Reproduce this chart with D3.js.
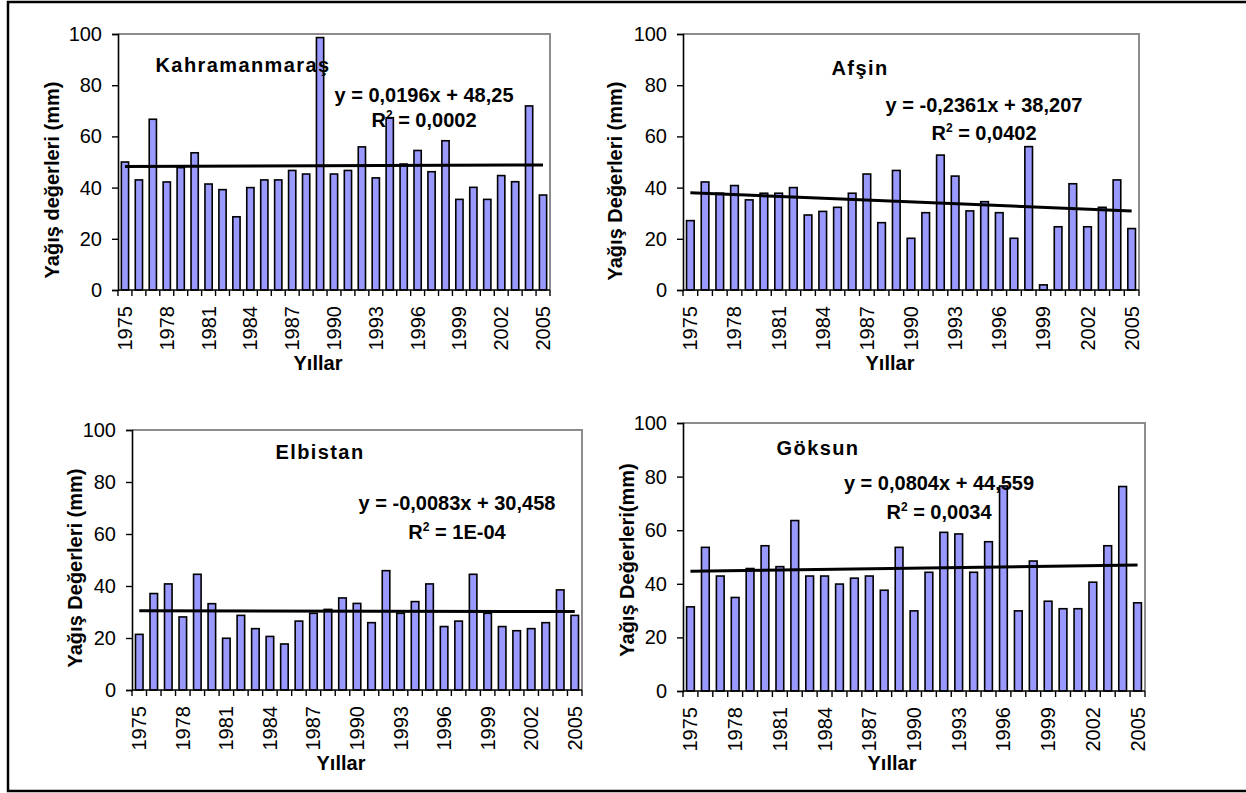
<!DOCTYPE html>
<html>
<head>
<meta charset="utf-8">
<script src="https://cdn.jsdelivr.net/npm/d3@7"></script>
<style>
  html, body { margin: 0; padding: 0; background: #fff; }
  svg { display: block; }
  text { font-family: "Liberation Sans", Arial, sans-serif; fill: #000; }
</style>
</head>
<body>
<svg id="chart" width="1246" height="793"></svg>
<script>
// ---------------- DATA ----------------
const years = [1975,1976,1977,1978,1979,1980,1981,1982,1983,1984,1985,1986,1987,1988,1989,1990,
               1991,1992,1993,1994,1995,1996,1997,1998,1999,2000,2001,2002,2003,2004,2005];
const tickLabelYears = [1975,1978,1981,1984,1987,1990,1993,1996,1999,2002,2005];
const yTickValues = [0,20,40,60,80,100];

const kahramanmaras = [50,43,66.7,42.2,47.8,53.6,41.4,39.2,28.6,40,43,43,46.7,45.3,98.6,45.3,
                       46.7,55.9,43.8,67.3,49.2,54.5,46.2,58.3,35.4,40.1,35.4,44.7,42.3,71.9,37.1];
const afsin = [27.1,42.2,37.8,40.8,35.2,37.8,37.8,40,29.3,30.7,32.3,37.8,45.3,26.3,46.7,20.2,
               30.2,52.7,44.5,30.9,34.5,30.2,20.2,56,2,24.7,41.5,24.7,32.3,43,24];
const elbistan = [21.4,37.1,40.8,28.1,44.5,33.2,19.9,28.7,23.6,20.6,17.7,26.5,29.5,31,35.4,33.3,
                  25.9,45.9,29.5,34,40.8,24.4,26.5,44.5,29.5,24.4,22.8,23.6,25.9,38.5,28.7];
const goksun = [31.4,53.6,42.9,34.9,45.7,54.2,46.4,63.6,42.9,42.9,39.9,42.1,42.9,37.6,53.6,29.9,
                44.3,59.2,58.6,44.3,55.7,76.5,29.9,48.5,33.5,30.7,30.7,40.6,54.2,76.3,32.9];

const stationNames = ["Kahramanmaraş","Afşin","Elbistan","Göksun"];
const trendSlopes = [0.0196,-0.2361,-0.0083,0.0804];
const trendIntercepts = [48.25,38.207,30.458,44.559];
const equationLabels = ["y = 0,0196x + 48,25","y = -0,2361x + 38,207","y = -0,0083x + 30,458","y = 0,0804x + 44,559"];
const r2Labels = ["0,0002","0,0402","1E-04","0,0034"];
const yTitles = ["Yağış değerleri (mm)","Yağış Değerleri (mm)","Yağış Değerleri (mm)","Yağış Değerleri(mm)"];
const xTitle = "Yıllar";
const seriesList = [kahramanmaras, afsin, elbistan, goksun];

// ---------------- LAYOUT ----------------
const layouts = [
  {left:118, right:550, top:34, bottom:290, titleX:243, titleY:65, eqX:424, eqY:95, r2Y:120, yTitleX:52, yTitleY:180, xTitleX:318, xTitleY:363},
  {left:683, right:1139, top:34, bottom:290, titleX:860, titleY:68, eqX:984, eqY:105, r2Y:133, yTitleX:615, yTitleY:181, xTitleX:890, xTitleY:363},
  {left:132, right:582, top:430, bottom:690, titleX:320, titleY:452, eqX:457, eqY:503, r2Y:532, yTitleX:75, yTitleY:568, xTitleX:341, xTitleY:763},
  {left:683, right:1145, top:423, bottom:691, titleX:818, titleY:448, eqX:939, eqY:483, r2Y:512, yTitleX:627, yTitleY:560, xTitleX:892, xTitleY:763}
];

const svg = d3.select("#chart");

// outer frame
svg.append("rect")
  .attr("x", 8).attr("y", 2).attr("width", 1260).attr("height", 789)
  .attr("fill", "none").attr("stroke", "#000").attr("stroke-width", 2.5);

seriesList.forEach((data, k) => {
  const L = layouts[k];
  const g = svg.append("g");
  const x = d3.scaleBand().domain(years).range([L.left, L.right]).paddingInner(0).paddingOuter(0);
  const y = d3.scaleLinear().domain([0, 100]).range([L.bottom, L.top]);
  const bw = x.bandwidth();
  const barW = bw * 0.52;

  // plot border (top & right, gray)
  g.append("path")
    .attr("d", `M${L.left},${y(100)}H${L.right}V${y(0)}`)
    .attr("fill", "none").attr("stroke", "#8c8c8c").attr("stroke-width", 2);

  // bars
  g.selectAll("rect.bar").data(data).enter().append("rect")
    .attr("class", "bar")
    .attr("x", (d, i) => x(years[i]) + (bw - barW) / 2)
    .attr("y", d => y(d))
    .attr("width", barW)
    .attr("height", d => y(0) - y(d))
    .attr("fill", "#9999ff")
    .attr("stroke", "#000").attr("stroke-width", 1.6);

  // y axis
  const yAxis = d3.axisLeft(y).tickValues(yTickValues).tickSize(6).tickPadding(10);
  const ya = g.append("g").attr("transform", `translate(${L.left},0)`).call(yAxis);
  ya.select(".domain").attr("stroke", "#000").attr("stroke-width", 1.6);
  ya.selectAll(".tick line").attr("stroke", "#000").attr("stroke-width", 1.4);
  ya.selectAll(".tick text").attr("font-size", 20).attr("font-family", "Liberation Sans, Arial, sans-serif").attr("fill", "#000");

  // x axis: baseline line
  g.append("line")
    .attr("x1", L.left).attr("x2", L.right).attr("y1", y(0)).attr("y2", y(0))
    .attr("stroke", "#000").attr("stroke-width", 1.6);
  // tick marks at category boundaries
  const boundaries = years.map(yr => x(yr)).concat([x(years[years.length - 1]) + bw]);
  g.selectAll("line.xt").data(boundaries).enter().append("line")
    .attr("class", "xt")
    .attr("x1", d => d).attr("x2", d => d)
    .attr("y1", y(0)).attr("y2", y(0) + 6)
    .attr("stroke", "#000").attr("stroke-width", 1.4);
  // tick labels
  g.selectAll("text.xl").data(tickLabelYears).enter().append("text")
    .attr("class", "xl")
    .attr("transform", d => `translate(${x(d) + bw / 2},${y(0) + 16}) rotate(-90)`)
    .attr("text-anchor", "end")
    .attr("dominant-baseline", "central")
    .attr("font-size", 20)
    .text(d => d);

  // trend line
  const trend = years.map((yr, i) => ({yr, v: trendSlopes[k] * (i + 1) + trendIntercepts[k]}));
  const first = trend[0], last = trend[trend.length - 1];
  g.append("line")
    .attr("x1", x(first.yr) + bw / 2).attr("y1", y(first.v))
    .attr("x2", x(last.yr) + bw / 2).attr("y2", y(last.v))
    .attr("stroke", "#000").attr("stroke-width", 3);

  // station title
  g.append("text")
    .attr("x", L.titleX).attr("y", L.titleY)
    .attr("text-anchor", "middle").attr("dominant-baseline", "central")
    .attr("font-size", 20).attr("font-weight", "bold").attr("letter-spacing", 1.4)
    .text(stationNames[k]);

  // equation
  g.append("text")
    .attr("x", L.eqX).attr("y", L.eqY)
    .attr("text-anchor", "middle").attr("dominant-baseline", "central")
    .attr("font-size", 20).attr("font-weight", "bold")
    .text(equationLabels[k]);

  // R^2
  const r2 = g.append("text")
    .attr("x", L.eqX).attr("y", L.r2Y + 7)
    .attr("text-anchor", "middle")
    .attr("font-size", 20).attr("font-weight", "bold");
  r2.append("tspan").text("R");
  r2.append("tspan").attr("font-size", 12).attr("dy", -8).text("2");
  r2.append("tspan").attr("dy", 8).text(" = " + r2Labels[k]);

  // y title
  g.append("text")
    .attr("transform", `translate(${L.yTitleX},${L.yTitleY}) rotate(-90)`)
    .attr("text-anchor", "middle").attr("dominant-baseline", "central")
    .attr("font-size", 20).attr("font-weight", "bold")
    .text(yTitles[k]);

  // x title
  g.append("text")
    .attr("x", L.xTitleX).attr("y", L.xTitleY)
    .attr("text-anchor", "middle").attr("dominant-baseline", "central")
    .attr("font-size", 20).attr("font-weight", "bold")
    .text(xTitle);
});
</script>
</body>
</html>
